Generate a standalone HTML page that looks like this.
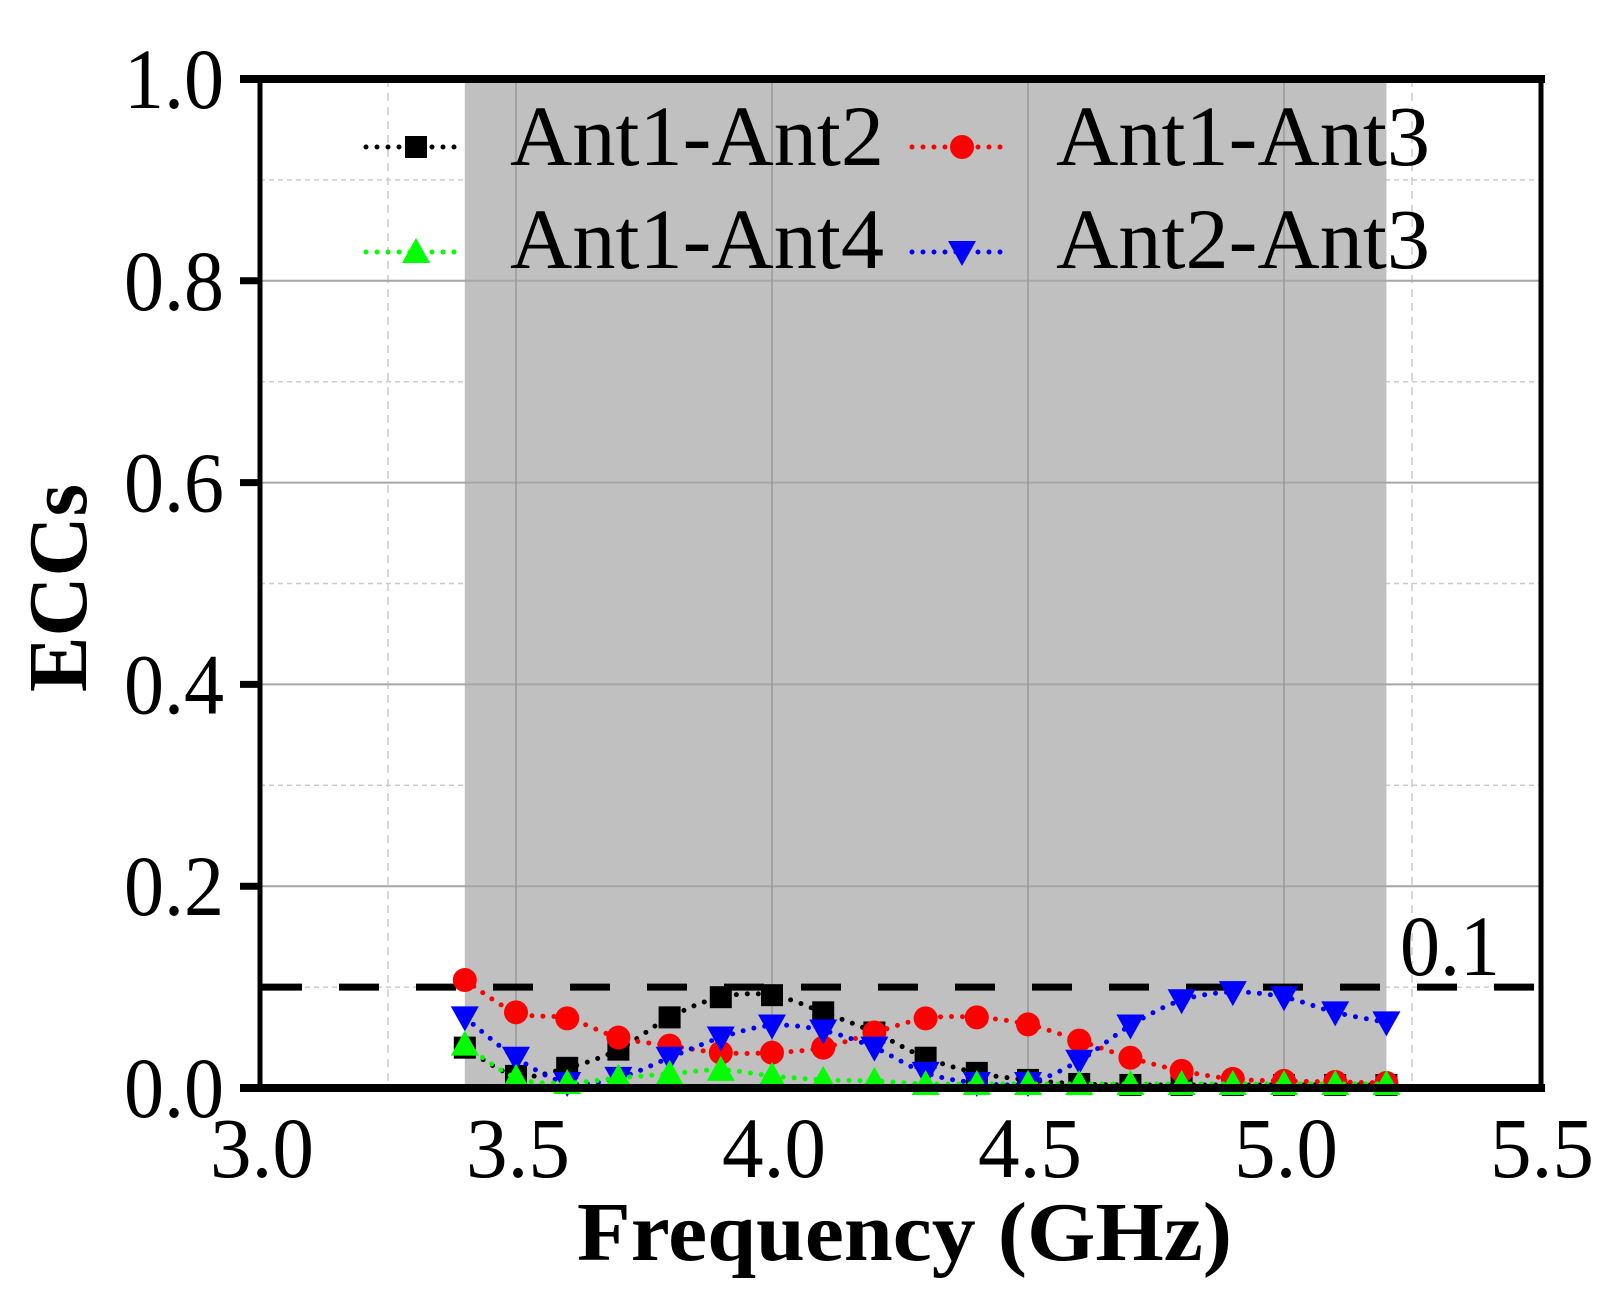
<!DOCTYPE html>
<html><head><meta charset="utf-8"><style>
html,body{margin:0;padding:0;background:#fff;}
svg{display:block;}
text{font-family:"Liberation Serif","Times New Roman",serif;fill:#000;}
</style></head><body>
<svg id="s" width="1621" height="1299" viewBox="0 0 1621 1299" xmlns="http://www.w3.org/2000/svg" font-family="Liberation Serif, serif">
<rect width="1621" height="1299" fill="#fff"/>
<g id="grid"></g>
<g id="data"></g>
<g id="axes"></g>
</svg>
<script>
const NS="http://www.w3.org/2000/svg";
const X=f=>260+(f-3)*512, Y=v=>1088-v*1009;
function el(p,t,a,txt){const e=document.createElementNS(NS,t);for(const k in a)e.setAttribute(k,a[k]);if(txt!==undefined)e.textContent=txt;p.appendChild(e);return e;}
const g=document.getElementById('grid'),d=document.getElementById('data'),ax=document.getElementById('axes');
for(const v of [0.1,0.3,0.5,0.7,0.9]) el(g,'line',{x1:260,x2:1540,y1:Y(v),y2:Y(v),stroke:'#ccc','stroke-width':1.5,'stroke-dasharray':'5 4'});
for(const f of [3.25,5.25]) el(g,'line',{x1:X(f),x2:X(f),y1:79,y2:1088,stroke:'#ccc','stroke-width':1.5,'stroke-dasharray':'8 6'});
el(g,'rect',{x:X(3.4),y:79,width:X(5.2)-X(3.4),height:1009,fill:'#c0c0c0'});
for(const v of [0.2,0.4,0.6,0.8]) el(g,'line',{x1:260,x2:1540,y1:Y(v),y2:Y(v),stroke:'#a6a6a6','stroke-width':2});
for(const f of [3.5,4,4.5,5]) el(g,'line',{x1:X(f),x2:X(f),y1:79,y2:1088,stroke:'#999','stroke-width':1.5});
el(g,'line',{x1:262,x2:1538,y1:Y(0.1),y2:Y(0.1),stroke:'#000','stroke-width':7,'stroke-dasharray':'40 37'});
el(g,'text',{x:1400,y:975,'font-size':86,textLength:100,lengthAdjust:'spacingAndGlyphs'},'0.1');
const fs=[];for(let i=0;i<19;i++)fs.push(3.4+i*0.1);
const S={
k:[0.04,0.012,0.02,0.038,0.07,0.09,0.092,0.075,0.055,0.03,0.015,0.008,0.004,0.003,0.003,0.003,0.003,0.003,0.003],
r:[0.107,0.075,0.069,0.05,0.042,0.035,0.035,0.04,0.055,0.069,0.07,0.063,0.047,0.03,0.017,0.009,0.007,0.006,0.005],
b:[0.07,0.03,0.005,0.01,0.03,0.05,0.062,0.057,0.04,0.015,0.005,0.005,0.027,0.062,0.087,0.095,0.09,0.075,0.065],
gr:[0.043,0.01,0.005,0.01,0.014,0.018,0.012,0.008,0.007,0.004,0.004,0.004,0.004,0.004,0.004,0.004,0.004,0.004,0.004]};
const col={k:'#000',r:'#f00',b:'#00f',gr:'#0f0'};
function marker(p,t,x,y){
 if(t=='k') el(p,'rect',{x:x-11,y:y-11,width:22,height:22,fill:'#000'});
 if(t=='r') el(p,'circle',{cx:x,cy:y,r:12,fill:'#f00'});
 if(t=='b') el(p,'polygon',{points:`${x-14},${y-11} ${x+14},${y-11} ${x},${y+14}`,fill:'#00f'});
 if(t=='gr') el(p,'polygon',{points:`${x-14},${y+11} ${x+14},${y+11} ${x},${y-14}`,fill:'#0f0'});
}
function smooth(pts){let s=`M${pts[0][0]},${pts[0][1]}`;for(let i=0;i<pts.length-1;i++){const p0=pts[Math.max(0,i-1)],p1=pts[i],p2=pts[i+1],p3=pts[Math.min(pts.length-1,i+2)];
 s+=` C${p1[0]+(p2[0]-p0[0])/6},${p1[1]+(p2[1]-p0[1])/6} ${p2[0]-(p3[0]-p1[0])/6},${p2[1]-(p3[1]-p1[1])/6} ${p2[0]},${p2[1]}`;}return s;}
for(const t of ['k','r','b','gr']){
 const pts=fs.map((f,i)=>[X(f),Math.min(1085,Y(S[t][i]))]);
 el(d,'path',{d:smooth(pts),fill:'none',stroke:col[t],'stroke-width':5,'stroke-linecap':'round','stroke-dasharray':'0 11'});
 pts.forEach(p=>marker(d,t,p[0],p[1]));
}
const L=[['k',416,147,510,165,'Ant1-Ant2'],['r',962,147,1056,165,'Ant1-Ant3'],['gr',416,252,510,268,'Ant1-Ant4'],['b',962,252,1056,268,'Ant2-Ant3']];
for(const [t,mx,my,tx,ty,lab] of L){
 el(ax,'line',{x1:mx-50,x2:mx+48,y1:my,y2:my,stroke:col[t],'stroke-width':5,'stroke-linecap':'round','stroke-dasharray':'0 11'});
 marker(ax,t,mx,my);
 el(ax,'text',{x:tx,y:ty,'font-size':86,textLength:374,lengthAdjust:'spacingAndGlyphs'},lab);
}
el(ax,'line',{x1:260,x2:260,y1:79,y2:1088,stroke:'#000','stroke-width':5});
el(ax,'line',{x1:1541,x2:1541,y1:79,y2:1088,stroke:'#000','stroke-width':5});
el(ax,'line',{x1:240,x2:1545,y1:79,y2:79,stroke:'#000','stroke-width':8});
el(ax,'line',{x1:240,x2:1545,y1:1088,y2:1088,stroke:'#000','stroke-width':8});
for(let i=0;i<=5;i++){const v=i*0.2,y=Y(v);
 el(ax,'line',{x1:240,x2:260,y1:y,y2:y,stroke:'#000','stroke-width':7});
 el(ax,'text',{x:224,y:y+29,'font-size':86,'text-anchor':'end',textLength:100,lengthAdjust:'spacingAndGlyphs'},v.toFixed(1));}
for(let i=0;i<=5;i++){const f=3+i*0.5,x=X(f);
 el(ax,'text',{x:x-50,y:1177,'font-size':86,textLength:104,lengthAdjust:'spacingAndGlyphs'},f.toFixed(1));}
el(ax,'text',{x:577,y:1260,'font-size':84,'font-weight':'bold',textLength:655,lengthAdjust:'spacingAndGlyphs'},'Frequency (GHz)');
el(ax,'text',{x:0,y:0,'font-size':84,'font-weight':'bold','text-anchor':'middle',transform:'translate(86,588) rotate(-90)',textLength:208,lengthAdjust:'spacingAndGlyphs'},'ECCs');
</script>
</body></html>
